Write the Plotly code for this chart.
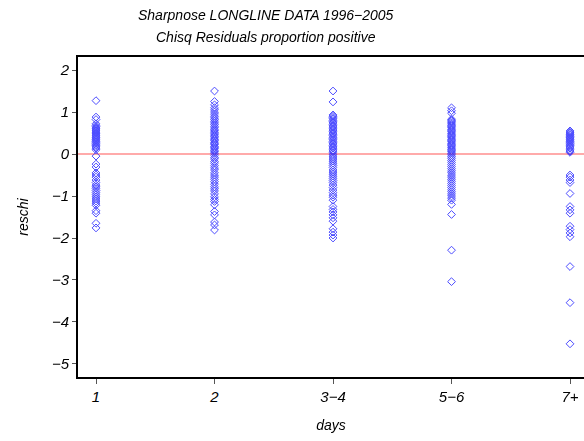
import plotly.graph_objects as go

days = ["1", "2", "3\u22124", "5\u22126", "7+"]

reschi_1 = [1.27, 0.88, 0.82, 0.72, 0.68, 0.65, 0.62, 0.6, 0.57, 0.55, 0.52, 0.5, 0.48, 0.45,
            0.43, 0.4, 0.38, 0.35, 0.33, 0.3, 0.28, 0.25, 0.22, 0.2, 0.17, 0.14, 0.1,
            -0.05, -0.24, -0.31, -0.45, -0.5, -0.55, -0.62, -0.68, -0.74, -0.78, -0.82, -0.87,
            -0.92, -0.97, -1.02, -1.07, -1.12, -1.17, -1.22, -1.35, -1.41, -1.65, -1.76]
reschi_2 = [1.5, 1.25, 1.17, 1.1, 1.05, 1.0, 0.95, 0.9, 0.86, 0.82, 0.78, 0.74, 0.7, 0.66, 0.62,
            0.58, 0.55, 0.52, 0.48, 0.45, 0.42, 0.38, 0.35, 0.32, 0.28, 0.25, 0.22, 0.18, 0.15,
            0.12, 0.08, 0.05, 0.02, -0.03, -0.08, -0.12, -0.18, -0.22, -0.28, -0.33, -0.38,
            -0.45, -0.5, -0.55, -0.6, -0.66, -0.72, -0.78, -0.83, -0.88, -0.95, -1.02, -1.08,
            -1.13, -1.21, -1.37, -1.45, -1.62, -1.69, -1.81]
reschi_3 = [1.5, 1.24, 0.93, 0.9, 0.87, 0.84, 0.8, 0.77, 0.74, 0.7, 0.67, 0.64, 0.6, 0.57, 0.54,
            0.5, 0.47, 0.44, 0.4, 0.37, 0.34, 0.3, 0.27, 0.24, 0.2, 0.17, 0.14, 0.1, 0.07, 0.03,
            -0.02, -0.07, -0.12, -0.17, -0.22, -0.27, -0.32, -0.38, -0.43, -0.48, -0.53, -0.58,
            -0.63, -0.68, -0.74, -0.8, -0.86, -0.92, -0.98, -1.03, -1.1, -1.25, -1.32, -1.38,
            -1.45, -1.52, -1.6, -1.78, -1.86, -1.93, -2.0]
reschi_4 = [1.1, 1.03, 0.97, 0.83, 0.8, 0.77, 0.74, 0.71, 0.68, 0.65, 0.62, 0.59, 0.56, 0.53,
            0.5, 0.47, 0.44, 0.41, 0.38, 0.35, 0.32, 0.29, 0.26, 0.23, 0.2, 0.17, 0.14, 0.11,
            0.08, 0.05, 0.02, -0.02, -0.06, -0.1, -0.15, -0.2, -0.25, -0.3, -0.35, -0.4, -0.45,
            -0.5, -0.55, -0.6, -0.65, -0.7, -0.75, -0.8, -0.85, -0.9, -0.95, -1.0, -1.05, -1.1,
            -1.2, -1.44, -2.29, -3.04]
reschi_5 = [0.55, 0.52, 0.5, 0.47, 0.45, 0.42, 0.4, 0.38, 0.35, 0.33, 0.3, 0.28, 0.25, 0.22,
            0.2, 0.17, 0.14, 0.1, 0.07, 0.04,
            -0.5, -0.55, -0.62, -0.68, -0.94, -1.25, -1.33, -1.41, -1.72, -1.8, -1.88, -1.97,
            -2.68, -3.54, -4.52]

groups = [reschi_1, reschi_2, reschi_3, reschi_4, reschi_5]
ytick_vals = [2, 1, 0, -1, -2, -3, -4, -5]

xs, ys = [], []
for i, g in enumerate(groups):
    xs += [i + 1] * len(g)
    ys += g

FONT = "Liberation Sans, Arial, sans-serif"
TICKFONT = dict(size=15, style="italic", family=FONT)

fig = go.Figure()
fig.add_trace(go.Scatter(
    x=xs, y=ys, mode="markers",
    marker=dict(symbol="diamond-open", size=6, color="rgb(30,30,255)",
                line=dict(width=1, color="rgb(30,30,255)")),
    opacity=0.8, showlegend=False, hoverinfo="skip"))

fig.add_shape(type="line", xref="paper", yref="y", x0=0, x1=1, y0=0, y1=0,
              line=dict(color="#ffaaaa", width=2), layer="below")

fig.update_layout(
    width=584, height=441,
    margin=dict(l=78, r=0, t=57, b=64),
    paper_bgcolor="white", plot_bgcolor="white",
    font=dict(family=FONT, color="black"),
    xaxis=dict(range=[0.848, 5.118], tickvals=[1, 2, 3, 4, 5], ticktext=days,
               showgrid=False, zeroline=False, showline=True, linecolor="black",
               linewidth=2, mirror=True, ticks="outside", ticklen=5, tickwidth=1,
               tickcolor="#555", tickfont=TICKFONT,
               title=dict(text="days", font=dict(size=14, style="italic", family=FONT),
                          standoff=16)),
    yaxis=dict(range=[-5.31, 2.31], tickvals=ytick_vals,
               showgrid=False, zeroline=False, showline=True, linecolor="black",
               linewidth=2, ticks="outside", ticklen=4, tickwidth=1, tickcolor="#555",
               tickfont=TICKFONT,
               title=dict(text="reschi", font=dict(size=14, style="italic", family=FONT),
                          standoff=20)),
)

tx = (266 - 78) / 506
fig.add_annotation(text="Sharpnose LONGLINE DATA 1996\u22122005", xref="paper", yref="paper",
                   x=tx, y=1, yshift=42, showarrow=False, yanchor="middle",
                   font=dict(size=14, style="italic", family=FONT), xanchor="center")
fig.add_annotation(text="Chisq Residuals proportion positive", xref="paper", yref="paper",
                   x=tx, y=1, yshift=20, showarrow=False, yanchor="middle",
                   font=dict(size=14, style="italic", family=FONT), xanchor="center")

fig.write_html("out.html", config={"displayModeBar": False},
               post_script="document.body.style.margin='0';document.body.style.overflow='hidden';")
